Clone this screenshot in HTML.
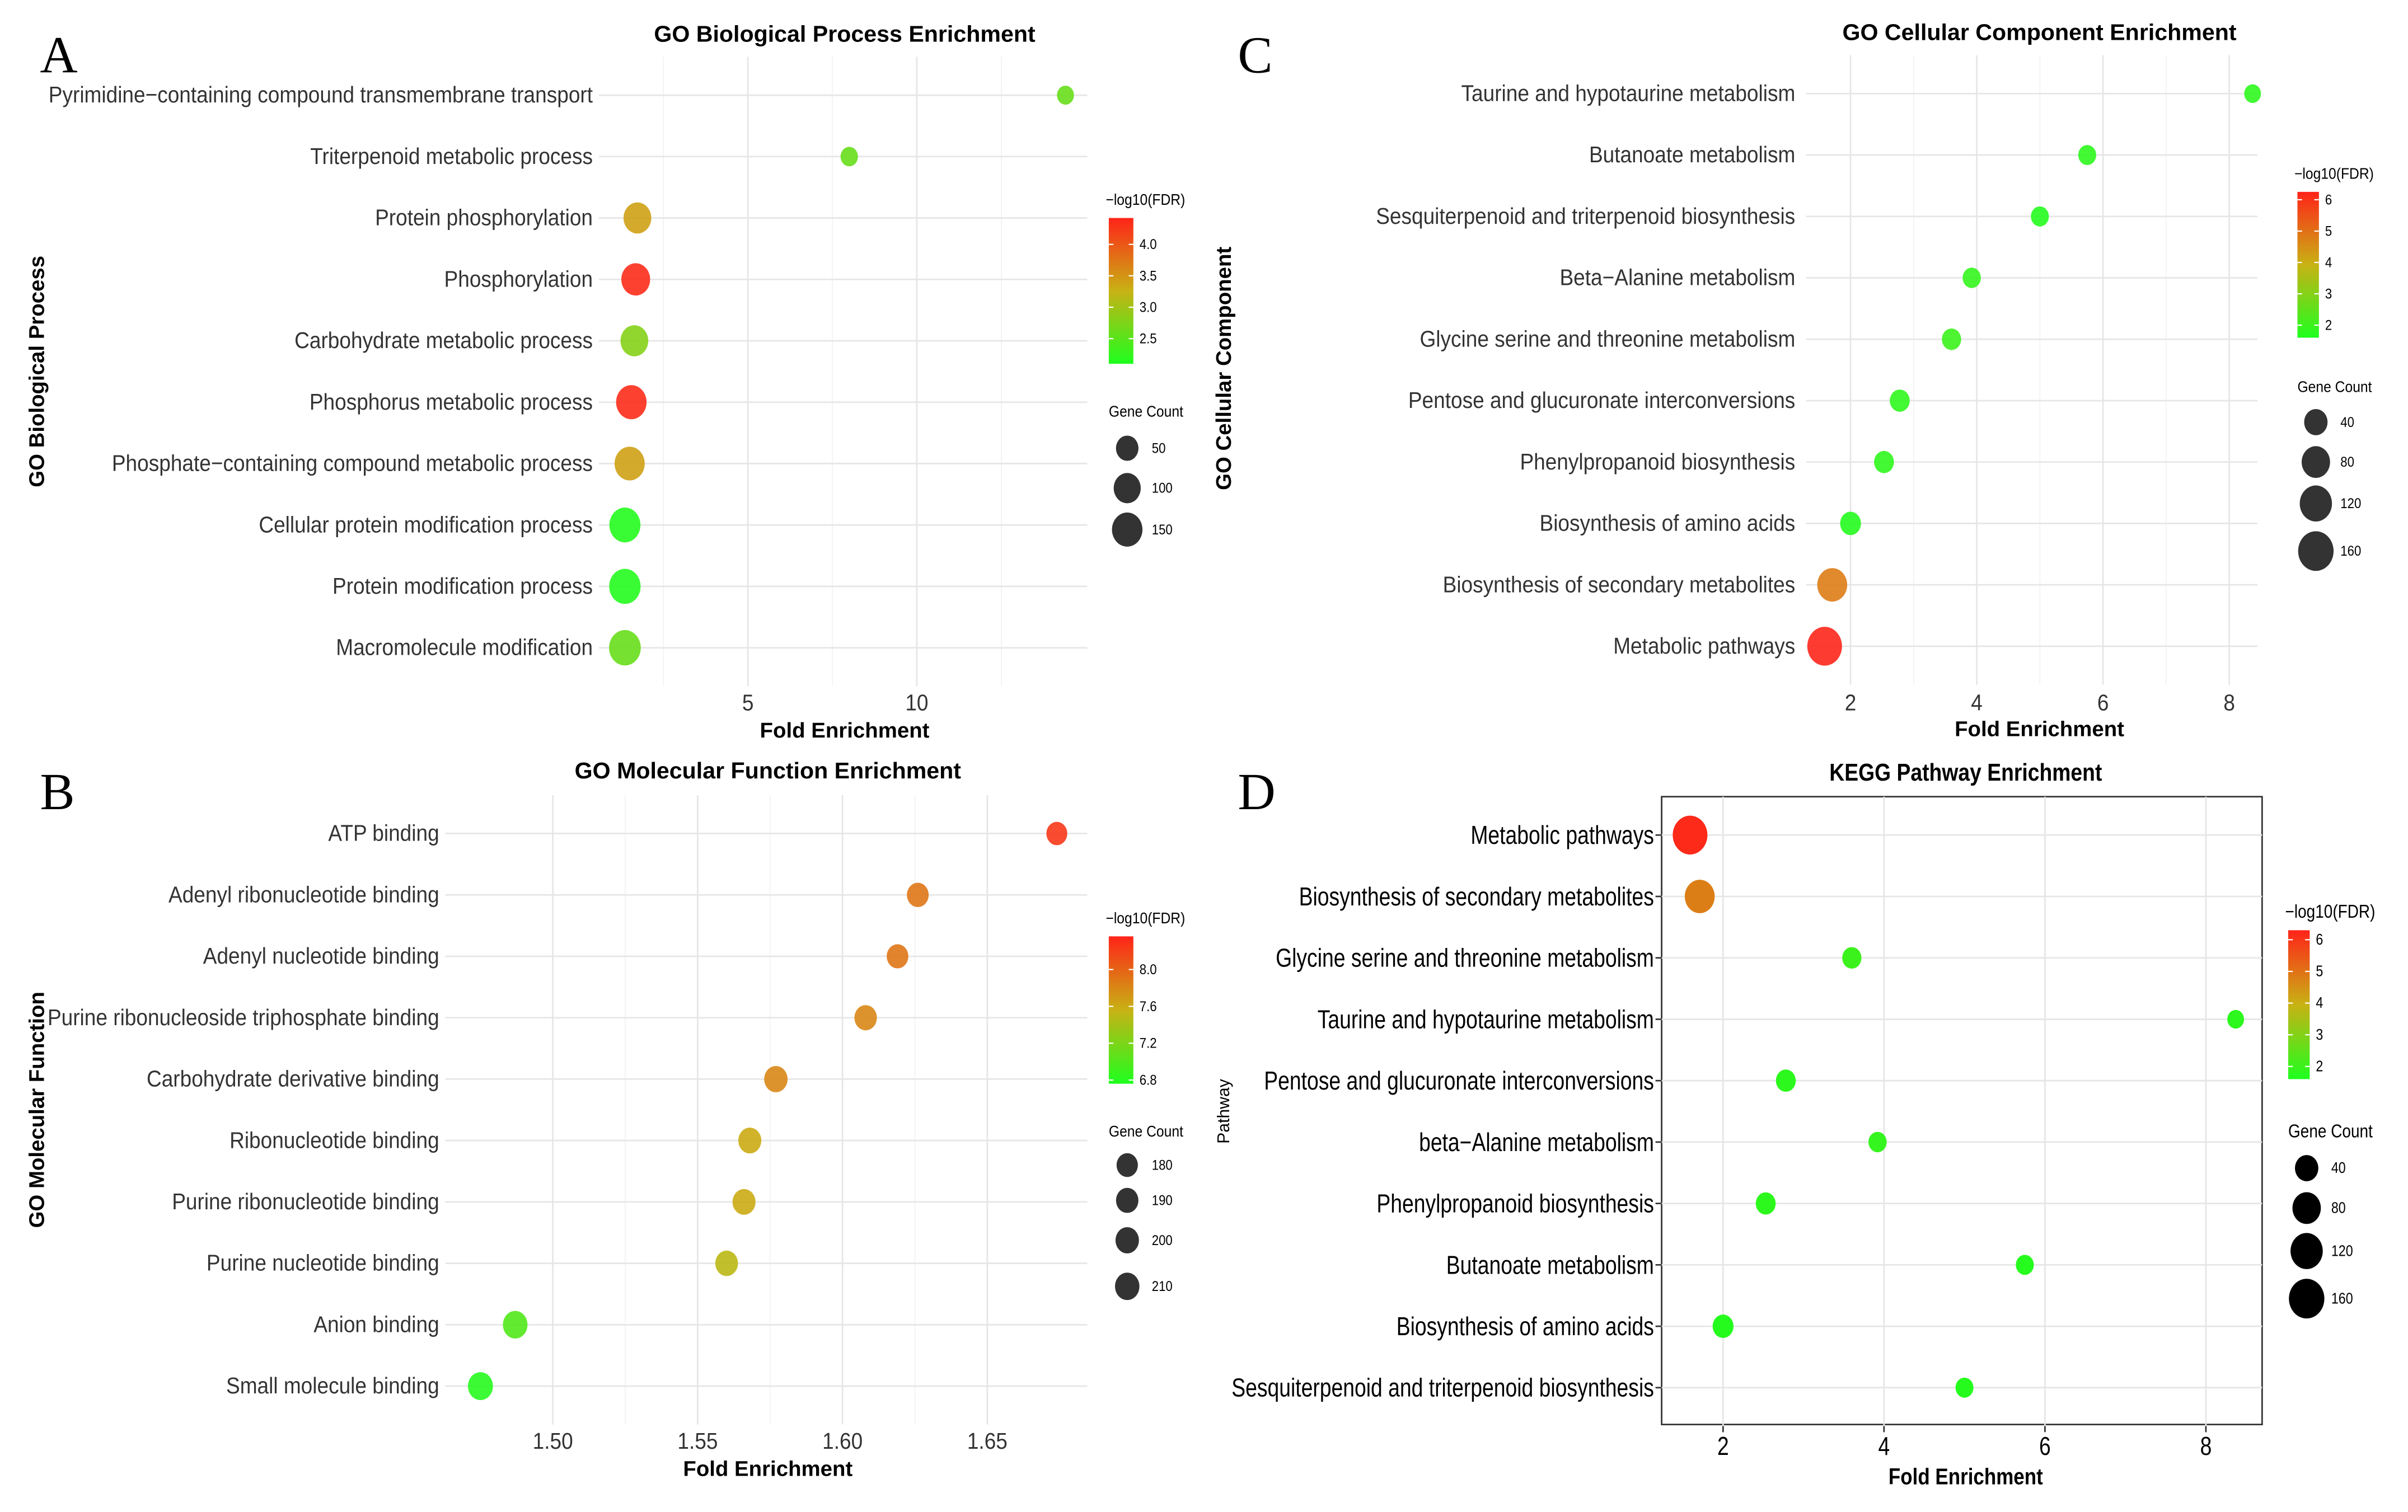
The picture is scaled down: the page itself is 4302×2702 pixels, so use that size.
<!DOCTYPE html>
<html><head><meta charset="utf-8"><style>
html,body{margin:0;padding:0;background:#fff}
svg{display:block}
</style></head><body>
<svg id="fig" width="4302" height="2702" viewBox="0 0 1568 985" preserveAspectRatio="none" xmlns="http://www.w3.org/2000/svg" font-family="Liberation Sans, sans-serif"></svg>
<script>
// Panel A data
const aTerms=["Pyrimidine\u2212containing compound transmembrane transport","Triterpenoid metabolic process","Protein phosphorylation","Phosphorylation","Carbohydrate metabolic process","Phosphorus metabolic process","Phosphate\u2212containing compound metabolic process","Cellular protein modification process","Protein modification process","Macromolecule modification"];
const aFold=[14.4,8.0,1.73,1.68,1.64,1.55,1.5,1.36,1.36,1.36];
const aFdr=[2.6,2.6,3.4,4.35,2.8,4.35,3.4,2.15,2.15,2.6];
const aCount=[12,14,110,125,110,150,145,160,165,170];
const aTicks=[5,10];
const aFdrTicks=[4.0,3.5,3.0,2.5];
const aSizeTicks=[50,100,150];
// Panel B data
const bTerms=["ATP binding","Adenyl ribonucleotide binding","Adenyl nucleotide binding","Purine ribonucleoside triphosphate binding","Carbohydrate derivative binding","Ribonucleotide binding","Purine ribonucleotide binding","Purine nucleotide binding","Anion binding","Small molecule binding"];
const bFold=[1.674,1.626,1.619,1.608,1.577,1.568,1.566,1.560,1.487,1.475];
const bFdr=[8.25,7.9,7.9,7.8,7.8,7.6,7.6,7.5,7.0,6.8];
const bCount=[176,184,183,191,200,196,196,193,212,215];
const bTicks=[1.50,1.55,1.60,1.65];
const bFdrTicks=[8.0,7.6,7.2,6.8];
const bSizeTicks=[180,190,200,210];
// Panel C data
const cTerms=["Taurine and hypotaurine metabolism","Butanoate metabolism","Sesquiterpenoid and triterpenoid biosynthesis","Beta\u2212Alanine metabolism","Glycine serine and threonine metabolism","Pentose and glucuronate interconversions","Phenylpropanoid biosynthesis","Biosynthesis of amino acids","Biosynthesis of secondary metabolites","Metabolic pathways"];
const cFold=[8.37,5.75,5.0,3.92,3.6,2.78,2.53,2.0,1.71,1.59];
const cFdr=[1.8,1.8,1.7,1.9,2.0,1.8,1.8,1.7,4.8,6.2];
const cCount=[8,12,12,13,17,20,20,25,95,150];
const cTicks=[2,4,6,8];
const cFdrTicks=[6,5,4,3,2];
const cSizeTicks=[40,80,120,160];
// Panel D data
const dTerms=["Metabolic pathways","Biosynthesis of secondary metabolites","Glycine serine and threonine metabolism","Taurine and hypotaurine metabolism","Pentose and glucuronate interconversions","beta\u2212Alanine metabolism","Phenylpropanoid biosynthesis","Butanoate metabolism","Biosynthesis of amino acids","Sesquiterpenoid and triterpenoid biosynthesis"];
const dFold=[1.59,1.71,3.6,8.37,2.78,3.92,2.53,5.75,2.0,5.0];
const dFdr=[6.2,4.8,2.0,1.8,1.8,1.9,1.8,1.7,1.7,1.7];
const dCount=[150,95,17,8,20,13,20,12,25,12];
const dTicks=[2,4,6,8];
const dFdrTicks=[6,5,4,3,2];
const dSizeTicks=[40,80,120,160];

const NS="http://www.w3.org/2000/svg";
const svg=document.getElementById('fig');
function mk(tag,attrs,parent){const e=document.createElementNS(NS,tag);for(const k in attrs)e.setAttribute(k,attrs[k]);(parent||svg).appendChild(e);return e;}
function txt(s,x,y,size,opt,parent){opt=opt||{};const e=mk('text',{x:0,y:0,'font-size':size,fill:opt.fill||'#333','text-anchor':opt.anchor||'start','dominant-baseline':'central'},parent);
  if(opt.bold)e.setAttribute('font-weight','bold');
  e.style.fontFamily=opt.family||'"Liberation Sans",sans-serif';
  let tr='translate('+x+' '+y+')';if(opt.rot)tr+=' rotate(-90)';if(opt.sx)tr+=' scale('+opt.sx+' '+(opt.sy||1)+')';
  e.setAttribute('transform',tr);e.textContent=s;return e;}
function lerp(a,b,t){return a+(b-a)*t;}
function col(t){t=Math.max(0,Math.min(1,t));const s=[[30,255,30],[200,178,20],[255,35,25]];let c;if(t<0.5){const u=t/0.5;c=s[0].map((v,i)=>lerp(v,s[1][i],u));}else{const u=(t-0.5)/0.5;c=s[1].map((v,i)=>lerp(v,s[2][i],u));}return 'rgb('+c.map(Math.round).join(',')+')';}

function panel(p){
  const g=mk('g',{});
  
  
  const xs=v=>p.x0+(v-p.v0)*p.k;
  const ys=i=>p.yTop+i*40;
  if(p.box){const b=mk('rect',{x:p.left,y:p.yTop-25,width:p.right-p.left,height:409,fill:'none',stroke:'#333','stroke-width':1},g);}
  const gy0=p.yTop-25,gy1=p.yTop+9*40+25;
  p.minor.forEach(v=>{const l=mk('line',{x1:xs(v),x2:xs(v),y1:gy0,y2:gy1,stroke:'#f2f2f2','stroke-width':0.6},g);});
  p.ticks.forEach(v=>{const l=mk('line',{x1:xs(v),x2:xs(v),y1:gy0,y2:gy1,stroke:'#e6e6e6','stroke-width':1},g);});
  p.terms.forEach((t,i)=>{const l=mk('line',{x1:p.left,x2:p.right,y1:ys(i),y2:ys(i),stroke:'#e6e6e6','stroke-width':1},g);
    const lb=txt(t,p.labelX,ys(i),p.fs,{anchor:'end',fill:p.box?'#000':'#333',sx:p.lsx,sy:p.lsy},g);
    if(p.box){const tk=mk('line',{x1:p.left-4,x2:p.left,y1:ys(i),y2:ys(i),stroke:'#333'},g);}
  });
  p.ticks.forEach(v=>{const lb=txt(p.fmt(v),xs(v),p.tickY,p.fs,{anchor:'middle',fill:p.box?'#000':'#333',sx:p.lsx,sy:p.lsy},g);
    if(p.box){const tk=mk('line',{x1:xs(v),x2:xs(v),y1:gy1,y2:gy1+4,stroke:'#333'},g);}});
  const rOf=c=>p.ra*Math.sqrt(c)+p.rb;
  const ft=v=>(v-p.fMin)/(p.fMax-p.fMin);
  p.fold.forEach((v,i)=>{const r=rOf(p.count[i]);const e=mk('ellipse',{cx:xs(v),cy:ys(i),rx:r,ry:r*1.12,fill:col(ft(p.fdr[i])),'fill-opacity':p.box?1:0.9},g);});
  const tt=txt(p.title,p.titleX,p.titleY,p.tfs||15,{anchor:'middle',bold:true,fill:'#000',sx:p.tsx},g);
  const xt=txt('Fold Enrichment',p.titleX2,p.xTitleY,p.tfs?p.tfs-1:14,{anchor:'middle',bold:true,fill:'#000',sx:p.tsx},g);
  const yt=txt(p.ylab,p.ylabX,p.ylabY,p.ylabBold?14:11,{anchor:'middle',bold:p.ylabBold,fill:'#000',rot:true},g);
  const pl=txt(p.letter,p.letterX,p.letterY,34,{family:'"Liberation Serif",serif',fill:'#000'},g);
  const L=p.leg;const gid='grad-'+p.letter;
  const gr=mk('linearGradient',{id:gid,x1:0,y1:1,x2:0,y2:0},g);
  for(let s=0;s<=10;s++)mk('stop',{offset:s/10,'stop-color':col(s/10)},gr);
  const lt=txt('\u2212log10(FDR)',L.x-2,L.titleY,L.fs,{fill:'#000',sx:p.lsx},g);
  const cb=mk('rect',{x:L.x,y:L.y0,width:L.w,height:L.y1-L.y0,fill:'url(#'+gid+')'},g);
  const cy=v=>L.y1-(v-p.fMin)/(p.fMax-p.fMin)*(L.y1-L.y0);
  p.fdrTicks.forEach(v=>{mk('line',{x1:L.x,x2:L.x+3,y1:cy(v),y2:cy(v),stroke:'#fff','stroke-width':0.8},g);mk('line',{x1:L.x+L.w-3,x2:L.x+L.w,y1:cy(v),y2:cy(v),stroke:'#fff','stroke-width':0.8},g);
    const l=txt(p.ffmt(v),L.x+L.w+4,cy(v),L.tfs,{fill:'#000',sx:p.lsx},g);});
  const st=txt('Gene Count',L.x,L.sTitleY,L.fs,{fill:'#000',sx:p.lsx},g);
  p.sizeTicks.forEach((v,i)=>{const r=rOf(v);const e=mk('ellipse',{cx:L.cx,cy:L.sy[i],rx:r,ry:r*1.12,fill:p.box?'#000':'#333'},g);
    const l=txt(String(v),L.cx+16,L.sy[i],L.tfs,{fill:'#000',sx:p.lsx},g);});
}

panel({name:'panel-a-biological-process',letter:'A',letterX:26,letterY:36,terms:aTerms,fold:aFold,fdr:aFdr,count:aCount,ticks:aTicks,minor:[2.5,7.5,12.5],fdrTicks:aFdrTicks,sizeTicks:aSizeTicks,
  x0:377,v0:0,k:22,yTop:62,left:390,right:708,labelX:386,fs:15,lsx:0.9,tickY:458,xTitleY:476,fmt:v=>String(v),
  title:'GO Biological Process Enrichment',titleX:550,titleY:22,titleX2:550,ylab:'GO Biological Process',ylabX:24,ylabY:242,ylabBold:true,
  fMin:2.1,fMax:4.42,ffmt:v=>v.toFixed(1),ra:0.5,rb:3.8,
  leg:{x:722,w:16,y0:142,y1:237,titleY:130,fs:10,tfs:9,sTitleY:268,cx:734,sy:[292,318,345]}});
panel({name:'panel-b-molecular-function',letter:'B',letterX:26,letterY:516,terms:bTerms,fold:bFold,fdr:bFdr,count:bCount,ticks:bTicks,minor:[1.525,1.575,1.625],fdrTicks:bFdrTicks,sizeTicks:bSizeTicks,
  x0:360,v0:1.5,k:1886,yTop:543,left:290,right:708,labelX:286,fs:15,lsx:0.9,tickY:939,xTitleY:957,fmt:v=>v.toFixed(2),
  title:'GO Molecular Function Enrichment',titleX:500,titleY:502,titleX2:500,ylab:'GO Molecular Function',ylabX:24,ylabY:723,ylabBold:true,
  fMin:6.76,fMax:8.36,ffmt:v=>v.toFixed(1),ra:0.95,rb:-5.8,
  leg:{x:722,w:16,y0:610,y1:706,titleY:598,fs:10,tfs:9,sTitleY:737,cx:734,sy:[759,782,808,838]}});
panel({name:'panel-c-cellular-component',letter:'C',letterX:806,letterY:36,terms:cTerms,fold:cFold,fdr:cFdr,count:cCount,ticks:cTicks,minor:[3,5,7],fdrTicks:cFdrTicks,sizeTicks:cSizeTicks,
  x0:1205,v0:2,k:41.1,yTop:61,left:1176,right:1470,labelX:1169,fs:15,lsx:0.9,tickY:458,xTitleY:475,fmt:v=>String(v),
  title:'GO Cellular Component Enrichment',titleX:1328,titleY:21,titleX2:1328,ylab:'GO Cellular Component',ylabX:797,ylabY:240,ylabBold:true,
  fMin:1.6,fMax:6.25,ffmt:v=>String(v),ra:0.62,rb:3.7,
  leg:{x:1496,w:14,y0:125,y1:220,titleY:113,fs:10,tfs:9,sTitleY:252,cx:1508,sy:[275,301,328,359]}});
panel({name:'panel-d-kegg-pathway',letter:'D',letterX:806,letterY:516,box:true,terms:dTerms,fold:dFold,fdr:dFdr,count:dCount,ticks:dTicks,minor:[],fdrTicks:dFdrTicks,sizeTicks:dSizeTicks,
  x0:1122,v0:2,k:52.4,yTop:544,left:1082,right:1473,labelX:1077,fs:16,lsx:0.85,lsy:1.05,tsx:0.85,tfs:16,tickY:942,xTitleY:962,fmt:v=>String(v),
  title:'KEGG Pathway Enrichment',titleX:1280,titleY:503,titleX2:1280,ylab:'Pathway',ylabX:797,ylabY:724,ylabBold:false,
  fMin:1.6,fMax:6.3,ffmt:v=>String(v),ra:0.62,rb:3.7,
  leg:{x:1490,w:14,y0:606,y1:703,titleY:594,fs:12,tfs:10,sTitleY:737,cx:1502,sy:[761,787,815,846]}});
</script>
</body></html>
